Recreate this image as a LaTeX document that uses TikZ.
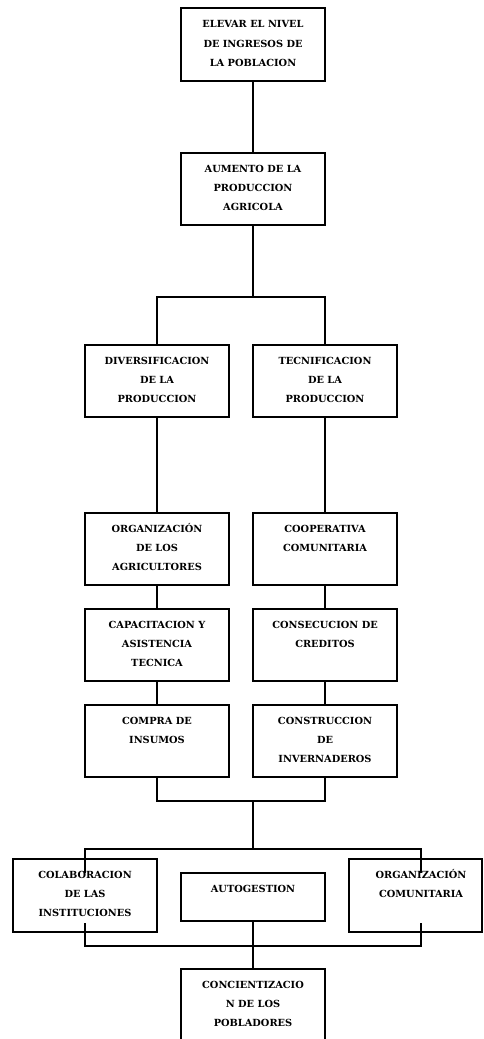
\documentclass[tikz,border=0pt]{standalone}
\usepackage{fontspec}
\setmainfont{DejaVu Serif}
\begin{document}
\begin{tikzpicture}[x=1pt,y=-1pt,
  box/.style={draw,line width=1.5pt,minimum width=144pt,minimum height=72pt,inner sep=0pt},
  txt/.style={anchor=north,inner sep=0pt,align=center,font=\fontsize{9.8}{19.2}\selectfont\bfseries},
  con/.style={line width=1.5pt}]
\useasboundingbox (0,0) rectangle (483,1039);
\clip (0,0) rectangle (483,1039);
% boxes
\node[box,minimum height=73pt] (n1) at (253,44.5) {};
\node[box] (n2) at (253,189) {};
\node[box] (n3) at (157,381) {};
\node[box] (n4) at (325,381) {};
\node[box] (n5) at (157,549) {};
\node[box] (n6) at (325,549) {};
\node[box] (n7) at (157,645) {};
\node[box] (n8) at (325,645) {};
\node[box] (n9) at (157,741) {};
\node[box] (n10) at (325,741) {};
\node[box,minimum height=73pt] (n11) at (85,895.5) {};
\node[box,minimum height=48pt] (n12) at (253,897) {};
\node[box,minimum height=73pt,minimum width=133pt] (n13) at (415.5,895.5) {};
\node[box] (n14) at (253,1005) {};
% texts
\node[txt] (t1) at ([yshift=-7pt]n1.north) {\strut ELEVAR EL NIVEL\\DE INGRESOS DE\\LA POBLACION};
\node[txt] (t2) at ([yshift=-6.5pt]n2.north) {\strut AUMENTO DE LA\\PRODUCCION\\AGRICOLA};
\node[txt] (t3) at ([yshift=-6.5pt]n3.north) {\strut DIVERSIFICACION\\DE LA\\PRODUCCION};
\node[txt] (t4) at ([yshift=-6.5pt]n4.north) {\strut TECNIFICACION\\DE LA\\PRODUCCION};
\node[txt] (t5) at ([yshift=-6.5pt]n5.north) {\strut ORGANIZACIÓN\\DE LOS\\AGRICULTORES};
\node[txt] (t6) at ([yshift=-6.5pt]n6.north) {\strut COOPERATIVA\\COMUNITARIA};
\node[txt] (t7) at ([yshift=-6.5pt]n7.north) {\strut CAPACITACION Y\\ASISTENCIA\\TECNICA};
\node[txt] (t8) at ([yshift=-6.5pt]n8.north) {\strut CONSECUCION DE\\CREDITOS};
\node[txt] (t9) at ([yshift=-6.5pt]n9.north) {\strut COMPRA DE\\INSUMOS};
\node[txt] (t10) at ([yshift=-6.5pt]n10.north) {\strut CONSTRUCCION\\DE\\INVERNADEROS};
\node[txt] (t11) at ([yshift=-6.5pt]n11.north) {\strut COLABORACION\\DE LAS\\INSTITUCIONES};
\node[txt] (t12) at ([yshift=-6.5pt]n12.north) {\strut AUTOGESTION};
\node[txt] (t13) at ([xshift=5.5pt,yshift=-6.5pt]n13.north) {\strut ORGANIZACIÓN\\COMUNITARIA};
\node[txt] (t14) at ([yshift=-6.5pt]n14.north) {\strut CONCIENTIZACIO\\N DE LOS\\POBLADORES};
% junction coordinates
\coordinate (b1) at (253,297);
\coordinate (b2) at (253,801);
\coordinate (b3) at (253,849);
\coordinate (b4) at (253,946);
\coordinate (u11) at (85,873);
\coordinate (u13) at (421,873);
\coordinate (d11) at (85,923);
\coordinate (d13) at (421,923);
% connectors
\draw[con] (n1) -- (n2);
\draw[con] (n2.south) -- (b1);
\draw[con] (n3.north) -- (n3.north |- b1) -- (n4.north |- b1) -- (n4.north);
\draw[con] (n3) -- (n5);
\draw[con] (n4) -- (n6);
\draw[con] (n5) -- (n7);
\draw[con] (n6) -- (n8);
\draw[con] (n7) -- (n9);
\draw[con] (n8) -- (n10);
\draw[con] (n9.south) -- (n9.south |- b2) -- (n10.south |- b2) -- (n10.south);
\draw[con] (b2) -- (b3);
\draw[con] (u11) |- (b3) -| (u13);
\draw[con] (d11) |- (b4) -| (d13);
\draw[con] (n12) -- (n14);
\end{tikzpicture}
\end{document}
